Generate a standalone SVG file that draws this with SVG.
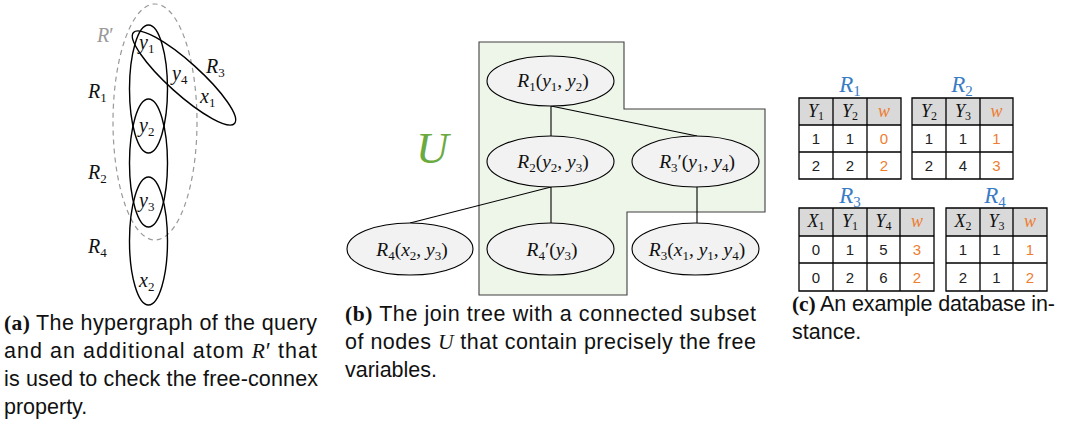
<svg xmlns="http://www.w3.org/2000/svg" width="1068" height="428" viewBox="0 0 1068 428">
<style>
.cap{font-family:"Liberation Sans",Arial,sans-serif;font-size:21.5px;fill:#111}
.b{font-family:"Liberation Serif","Times New Roman",serif;font-weight:bold}
.mi{font-family:"Liberation Serif","Times New Roman",serif;font-style:italic}
.m{font-family:"Liberation Serif","Times New Roman",serif;font-size:20px;fill:#111}
.n{font-family:"Liberation Serif","Times New Roman",serif;font-size:19.5px;fill:#111}
.i{font-style:italic}
.s{font-size:13px;font-style:normal}
.hg{fill:none;stroke:#000;stroke-width:1.4}
.nd{fill:#f2f2f2;stroke:#000;stroke-width:1.1}
.ln{stroke:#000;stroke-width:1.1;fill:none}
.th{font-family:"Liberation Serif","Times New Roman",serif;font-size:18px;font-style:italic;fill:#111;text-anchor:middle}
.ts{font-size:12px;font-style:normal}
.td{font-family:"Liberation Sans",Arial,sans-serif;font-size:15px;fill:#222;text-anchor:middle}
.o{fill:#ed7d31}
.tt{font-family:"Liberation Serif","Times New Roman",serif;font-size:23px;font-style:italic;fill:#3a7cc4;text-anchor:middle}
.grid{fill:none;stroke:#000;stroke-width:1.3}
</style>

<!-- Panel (a): hypergraph -->
<g id="hypergraph">
  <ellipse id="Rprime" cx="155" cy="122" rx="42" ry="118" fill="none" stroke="#999" stroke-width="1.2" stroke-dasharray="5,4"/>
  <ellipse id="R1e" class="hg" cx="148.5" cy="89" rx="19" ry="64"/>
  <ellipse id="R2e" class="hg" cx="148.5" cy="163" rx="19" ry="64"/>
  <ellipse id="R4e" class="hg" cx="148.5" cy="241" rx="19" ry="64"/>
  <ellipse id="R3e" class="hg" cx="184" cy="78" rx="68" ry="16" transform="rotate(42 184 78)"/>
  <text class="m" x="97" y="42" style="fill:#999"><tspan class="i">R</tspan>′</text>
  <text class="m" x="139" y="49"><tspan class="i">y</tspan><tspan class="s" dy="4">1</tspan></text>
  <text class="m" x="172" y="80"><tspan class="i">y</tspan><tspan class="s" dy="4">4</tspan></text>
  <text class="m" x="206" y="73"><tspan class="i">R</tspan><tspan class="s" dy="4">3</tspan></text>
  <text class="m" x="200" y="103"><tspan class="i">x</tspan><tspan class="s" dy="4">1</tspan></text>
  <text class="m" x="88" y="98"><tspan class="i">R</tspan><tspan class="s" dy="4">1</tspan></text>
  <text class="m" x="139" y="132"><tspan class="i">y</tspan><tspan class="s" dy="4">2</tspan></text>
  <text class="m" x="88" y="179"><tspan class="i">R</tspan><tspan class="s" dy="4">2</tspan></text>
  <text class="m" x="139" y="207"><tspan class="i">y</tspan><tspan class="s" dy="4">3</tspan></text>
  <text class="m" x="88" y="253"><tspan class="i">R</tspan><tspan class="s" dy="4">4</tspan></text>
  <text class="m" x="139" y="287"><tspan class="i">x</tspan><tspan class="s" dy="4">2</tspan></text>
</g>

<!-- Panel (b): join tree -->
<g id="regionU">
  <polygon points="479,42 624,42 624,109 765,109 765,212 627,212 627,295 479,295" fill="#eef5e9" stroke="#404040" stroke-width="1.1"/>
  <text x="416" y="163" class="mi" font-size="45" fill="#6aaa3f">U</text>
</g>

<g id="connectors">
  <line class="ln" x1="551" y1="106" x2="551" y2="136"/>
  <line class="ln" x1="551" y1="106" x2="697" y2="136"/>
  <line class="ln" x1="551" y1="187" x2="410" y2="223"/>
  <line class="ln" x1="551" y1="187" x2="551" y2="223"/>
  <line class="ln" x1="697" y1="187" x2="697" y2="223"/>
</g>

<g id="nR1">
  <ellipse class="nd" cx="550.5" cy="81" rx="63.5" ry="25"/>
  <text class="n" x="553" y="87" text-anchor="middle"><tspan class="i">R</tspan><tspan class="s" dy="4">1</tspan><tspan dy="-4">(</tspan><tspan class="i">y</tspan><tspan class="s" dy="4">1</tspan><tspan dy="-4">, </tspan><tspan class="i">y</tspan><tspan class="s" dy="4">2</tspan><tspan dy="-4">)</tspan></text>
</g>
<g id="nR2">
  <ellipse class="nd" cx="550.5" cy="161.5" rx="63.5" ry="25.5"/>
  <text class="n" x="553" y="168" text-anchor="middle"><tspan class="i">R</tspan><tspan class="s" dy="4">2</tspan><tspan dy="-4">(</tspan><tspan class="i">y</tspan><tspan class="s" dy="4">2</tspan><tspan dy="-4">, </tspan><tspan class="i">y</tspan><tspan class="s" dy="4">3</tspan><tspan dy="-4">)</tspan></text>
</g>
<g id="nR3p">
  <ellipse class="nd" cx="695.5" cy="161.5" rx="63.5" ry="25.5"/>
  <text class="n" x="697" y="168" text-anchor="middle"><tspan class="i">R</tspan><tspan class="s" dy="4">3</tspan><tspan dy="-4">′(</tspan><tspan class="i">y</tspan><tspan class="s" dy="4">1</tspan><tspan dy="-4">, </tspan><tspan class="i">y</tspan><tspan class="s" dy="4">4</tspan><tspan dy="-4">)</tspan></text>
</g>
<g id="nR4">
  <ellipse class="nd" cx="410" cy="249" rx="63" ry="26"/>
  <text class="n" x="412" y="256" text-anchor="middle"><tspan class="i">R</tspan><tspan class="s" dy="4">4</tspan><tspan dy="-4">(</tspan><tspan class="i">x</tspan><tspan class="s" dy="4">2</tspan><tspan dy="-4">, </tspan><tspan class="i">y</tspan><tspan class="s" dy="4">3</tspan><tspan dy="-4">)</tspan></text>
</g>
<g id="nR4p">
  <ellipse class="nd" cx="550.5" cy="249" rx="63.5" ry="26"/>
  <text class="n" x="552" y="256" text-anchor="middle"><tspan class="i">R</tspan><tspan class="s" dy="4">4</tspan><tspan dy="-4">′(</tspan><tspan class="i">y</tspan><tspan class="s" dy="4">3</tspan><tspan dy="-4">)</tspan></text>
</g>
<g id="nR3">
  <ellipse class="nd" cx="695.5" cy="249" rx="63.5" ry="26"/>
  <text class="n" x="697" y="256" text-anchor="middle"><tspan class="i">R</tspan><tspan class="s" dy="4">3</tspan><tspan dy="-4">(</tspan><tspan class="i">x</tspan><tspan class="s" dy="4">1</tspan><tspan dy="-4">, </tspan><tspan class="i">y</tspan><tspan class="s" dy="4">1</tspan><tspan dy="-4">, </tspan><tspan class="i">y</tspan><tspan class="s" dy="4">4</tspan><tspan dy="-4">)</tspan></text>
</g>

<!-- Panel (c): tables -->
<g id="tR1">
  <text class="tt" x="850" y="92">R<tspan font-size="15" font-style="normal" dy="4">1</tspan></text>
  <rect x="799" y="98" width="102" height="81" fill="#fff"/>
  <rect x="799" y="98" width="102" height="27" fill="#d9d9d9"/>
  <path class="grid" d="M799,98H901V179H799Z M833,98V179 M867,98V179 M799,125H901 M799,152H901"/>
  <text class="th" x="816" y="117">Y<tspan class="ts" dy="3">1</tspan></text>
  <text class="th" x="850" y="117">Y<tspan class="ts" dy="3">2</tspan></text>
  <text class="th o" x="884" y="117">w</text>
  <text class="td" x="816" y="144">1</text><text class="td" x="850" y="144">1</text><text class="td o" x="884" y="144">0</text>
  <text class="td" x="816" y="171">2</text><text class="td" x="850" y="171">2</text><text class="td o" x="884" y="171">2</text>
</g>
<g id="tR2">
  <text class="tt" x="962" y="92">R<tspan font-size="15" font-style="normal" dy="4">2</tspan></text>
  <rect x="912" y="98" width="101" height="81" fill="#fff"/>
  <rect x="912" y="98" width="101" height="27" fill="#d9d9d9"/>
  <path class="grid" d="M912,98H1013V179H912Z M946,98V179 M980,98V179 M912,125H1013 M912,152H1013"/>
  <text class="th" x="929" y="117">Y<tspan class="ts" dy="3">2</tspan></text>
  <text class="th" x="963" y="117">Y<tspan class="ts" dy="3">3</tspan></text>
  <text class="th o" x="996.5" y="117">w</text>
  <text class="td" x="929" y="144">1</text><text class="td" x="963" y="144">1</text><text class="td o" x="996.5" y="144">1</text>
  <text class="td" x="929" y="171">2</text><text class="td" x="963" y="171">4</text><text class="td o" x="996.5" y="171">3</text>
</g>
<g id="tR3">
  <text class="tt" x="850" y="203">R<tspan font-size="15" font-style="normal" dy="4">3</tspan></text>
  <rect x="799" y="208" width="135" height="83" fill="#fff"/>
  <rect x="799" y="208" width="135" height="28" fill="#d9d9d9"/>
  <path class="grid" d="M799,208H934V291H799Z M833,208V291 M867,208V291 M900,208V291 M799,236H934 M799,263H934"/>
  <text class="th" x="816" y="227">X<tspan class="ts" dy="3">1</tspan></text>
  <text class="th" x="850" y="227">Y<tspan class="ts" dy="3">1</tspan></text>
  <text class="th" x="883.5" y="227">Y<tspan class="ts" dy="3">4</tspan></text>
  <text class="th o" x="917" y="227">w</text>
  <text class="td" x="816" y="255">0</text><text class="td" x="850" y="255">1</text><text class="td" x="883.5" y="255">5</text><text class="td o" x="917" y="255">3</text>
  <text class="td" x="816" y="283">0</text><text class="td" x="850" y="283">2</text><text class="td" x="883.5" y="283">6</text><text class="td o" x="917" y="283">2</text>
</g>
<g id="tR4">
  <text class="tt" x="995" y="203">R<tspan font-size="15" font-style="normal" dy="4">4</tspan></text>
  <rect x="946" y="208" width="101" height="83" fill="#fff"/>
  <rect x="946" y="208" width="101" height="28" fill="#d9d9d9"/>
  <path class="grid" d="M946,208H1047V291H946Z M980,208V291 M1013,208V291 M946,236H1047 M946,263H1047"/>
  <text class="th" x="963" y="227">X<tspan class="ts" dy="3">2</tspan></text>
  <text class="th" x="996.5" y="227">Y<tspan class="ts" dy="3">3</tspan></text>
  <text class="th o" x="1030" y="227">w</text>
  <text class="td" x="963" y="255">1</text><text class="td" x="996.5" y="255">1</text><text class="td o" x="1030" y="255">1</text>
  <text class="td" x="963" y="283">2</text><text class="td" x="996.5" y="283">1</text><text class="td o" x="1030" y="283">2</text>
</g>

<!-- Captions -->
<g id="captions">
  <text class="cap" x="4" y="330" textLength="313" lengthAdjust="spacing"><tspan class="b">(a)</tspan> The hypergraph of the query</text>
  <text class="cap" x="4" y="358" textLength="313" lengthAdjust="spacing">and an additional atom <tspan class="mi">R</tspan>′ that</text>
  <text class="cap" x="4" y="386" textLength="314" lengthAdjust="spacing">is used to check the free-connex</text>
  <text class="cap" x="4" y="414">property.</text>
  <text class="cap" x="345" y="321" textLength="411" lengthAdjust="spacing"><tspan class="b">(b)</tspan> The join tree with a connected subset</text>
  <text class="cap" x="345" y="349" textLength="411" lengthAdjust="spacing">of nodes <tspan class="mi">U</tspan> that contain precisely the free</text>
  <text class="cap" x="345" y="377">variables.</text>
  <text class="cap" x="792" y="311" textLength="263" lengthAdjust="spacing"><tspan class="b">(c)</tspan> An example database in-</text>
  <text class="cap" x="792" y="339">stance.</text>
</g>
</svg>
